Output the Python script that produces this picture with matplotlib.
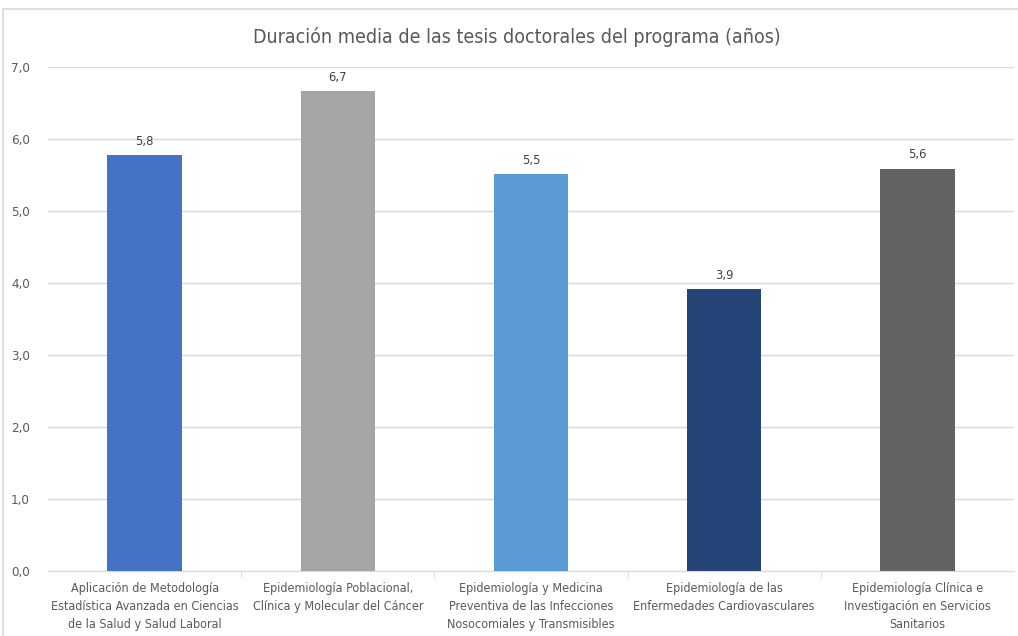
import matplotlib
matplotlib.use('Agg')
import matplotlib.pyplot as plt
from matplotlib.patches import Rectangle

titulo = 'Duración media de las tesis doctorales del programa (años)'
programas = [
	'Aplicación de Metodología\nEstadística Avanzada en Ciencias\nde la Salud y Salud Laboral',
	'Epidemiología Poblacional,\nClínica y Molecular del Cáncer',
	'Epidemiología y Medicina\nPreventiva de las Infecciones\nNosocomiales y Transmisibles',
	'Epidemiología de las\nEnfermedades Cardiovasculares',
	'Epidemiología Clínica e\nInvestigación en Servicios\nSanitarios',
]
duracion = [5.78, 6.66, 5.51, 3.92, 5.59]
colores = ['#4472C4', '#A5A5A5', '#5B9BD5', '#264478', '#636363']
yticks = [0, 1, 2, 3, 4, 5, 6, 7]

plt.rcParams['font.family'] = ['DejaVu Sans']
plt.rcParams['font.stretch'] = 'condensed'

fig = plt.figure(figsize=(10.18, 6.36), dpi=100)
# marco del grafico
fig.patches.append(Rectangle((3/1018, -0.05), 1.1, (636-9)/636+0.05, transform=fig.transFigure,
	fill=False, edgecolor='#D9D9D9', linewidth=1.2))
ax = fig.add_axes([48/1018, 65/636, (1014-48)/1018, (571-67)/636])

x = list(range(len(programas)))
bars = ax.bar(x, duracion, width=0.386, color=colores, zorder=3)
for xi, v in zip(x, duracion):
	ax.text(xi, v + 0.1, f'{v:.1f}'.replace('.', ','), ha='center', va='bottom',
		fontsize=9.3, color='#404040')

ax.set_xlim(-0.5, len(programas) - 0.5)
ax.set_ylim(0, 7)
ax.set_yticks(yticks)
ax.set_yticklabels([f'{t:.1f}'.replace('.', ',') for t in yticks], fontsize=9.5, color='#595959')
ax.yaxis.grid(True, color='#D9D9D9', linewidth=1, zorder=0)
ax.tick_params(axis='y', length=0, pad=13)

ax.set_xticks(x)
ax.set_xticklabels(programas, fontsize=9, color='#595959', linespacing=1.5)
ax.set_xticks([i + 0.5 for i in x[:-1]], minor=True)
ax.tick_params(axis='x', which='major', length=0, pad=8)
ax.tick_params(axis='x', which='minor', length=5, color='#D9D9D9')

for s in ['top', 'right', 'left']:
	ax.spines[s].set_visible(False)
ax.spines['bottom'].set_color('#D9D9D9')

fig.text(517/1018, 1 - 37/636, titulo, ha='center', va='center', fontsize=14, color='#595959')

fig.savefig('out.png', dpi=100)
